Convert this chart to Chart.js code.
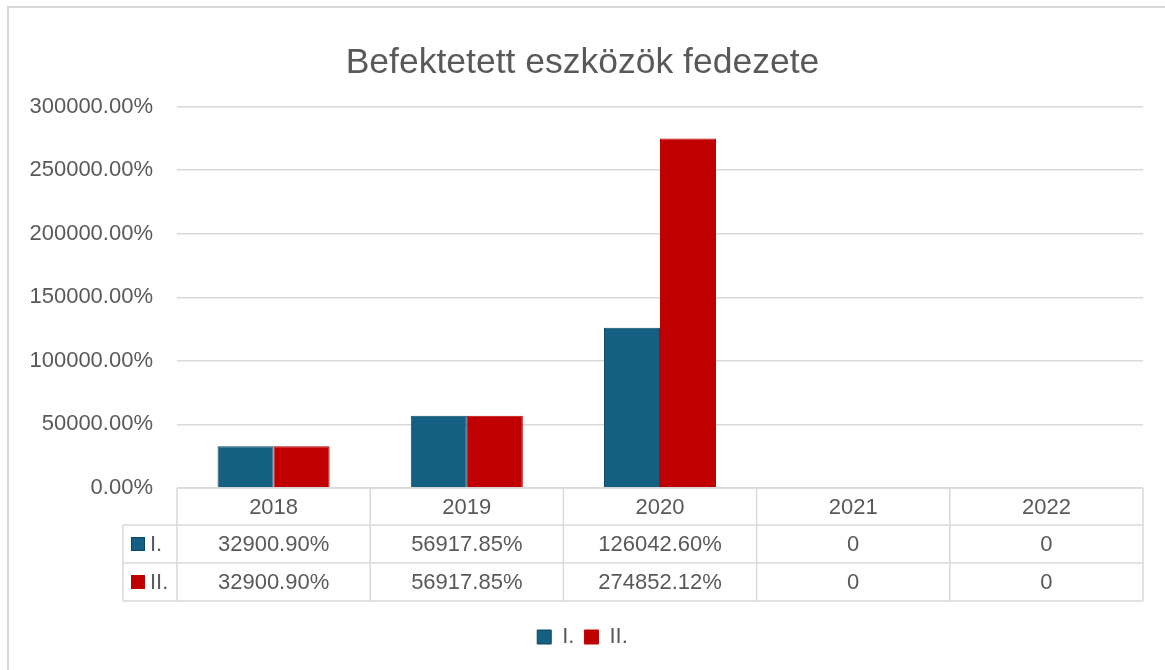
<!DOCTYPE html>
<html><head><meta charset="utf-8">
<script src="https://cdn.jsdelivr.net/npm/chart.js@4/dist/chart.umd.min.js"></script>
<style>html,body{margin:0;padding:0;background:#fff;overflow:hidden}#wrap{position:relative;width:1165px;height:670px}</style>
</head><body><div id="wrap"><canvas id="c" width="1165" height="670"></canvas></div>
<script>
const chartTitle = 'Befektetett eszközök fedezete';
const categories = ['2018', '2019', '2020', '2021', '2022'];
const seriesNames = ['I.', 'II.'];
const seriesI = [32900.90, 56917.85, 126042.60, 0, 0];
const seriesII = [32900.90, 56917.85, 274852.12, 0, 0];
const yTicks = [0, 50000, 100000, 150000, 200000, 250000, 300000];

const FONT = "'Liberation Sans', Arial, sans-serif";
const TEXT = '#595959';
const GRID = '#d9d9d9';
const BLUE = '#156082';
const BLUE_EDGE = '#0e4560';
const RED = '#c00000';

function fmt(v) { return v === 0 ? '0' : v.toFixed(2) + '%'; }

const framePlugin = {
  id: 'frame',
  beforeDraw(chart) {
    const ctx = chart.ctx;
    ctx.save();
    ctx.fillStyle = '#fff';
    ctx.fillRect(0, 0, chart.width, chart.height);
    ctx.strokeStyle = GRID;
    ctx.lineWidth = 2;
    ctx.beginPath();
    ctx.moveTo(8, chart.height + 2);
    ctx.lineTo(8, 7);
    ctx.lineTo(chart.width + 2, 7);
    ctx.stroke();
    ctx.restore();
  }
};

const tablePlugin = {
  id: 'dataTable',
  afterDraw(chart) {
    const ctx = chart.ctx;
    const { left, right, bottom } = chart.chartArea;
    const n = categories.length;
    const colW = (right - left) / n;
    const rowH = [37, 38, 38];
    const y0 = bottom, y1 = y0 + rowH[0], y2 = y1 + rowH[1], y3 = y2 + rowH[2];
    const labelLeft = left - 54;
    ctx.save();
    ctx.strokeStyle = GRID;
    ctx.lineWidth = 1.5;
    const line = (a, b, c, d) => { ctx.beginPath(); ctx.moveTo(a, b); ctx.lineTo(c, d); ctx.stroke(); };
    line(left, y0, right, y0);
    line(labelLeft, y1, right, y1);
    line(labelLeft, y2, right, y2);
    line(labelLeft, y3, right, y3);
    for (let i = 0; i <= n; i++) {
      const x = left + i * colW;
      line(x, y0, x, y3);
    }
    line(labelLeft, y1, labelLeft, y3);

    ctx.fillStyle = TEXT;
    ctx.font = '22px ' + FONT;
    ctx.textBaseline = 'middle';
    ctx.textAlign = 'center';
    for (let i = 0; i < n; i++) {
      const cx = left + (i + 0.5) * colW;
      ctx.fillText(categories[i], cx, (y0 + y1) / 2 + 1);
    }
    const rows = [[y1, y2], [y2, y3]];
    chart.data.datasets.forEach((ds, r) => {
      const cy = (rows[r][0] + rows[r][1]) / 2 + 1;
      ctx.textAlign = 'center';
      ctx.fillStyle = TEXT;
      for (let i = 0; i < n; i++) {
        const cx = left + (i + 0.5) * colW;
        ctx.fillText(fmt(ds.data[i]), cx, cy);
      }
      ctx.fillStyle = ds.backgroundColor;
      ctx.fillRect(labelLeft + 8, cy - 8, 14, 14);
      ctx.strokeStyle = ds.borderColor;
      ctx.lineWidth = 1;
      ctx.strokeRect(labelLeft + 8.5, cy - 7.5, 13, 13);
      ctx.fillStyle = TEXT;
      ctx.textAlign = 'left';
      ctx.fillText(ds.label, labelLeft + 27, cy);
    });
    ctx.restore();
  }
};

new Chart(document.getElementById('c'), {
  type: 'bar',
  data: {
    labels: categories,
    datasets: [
      { label: seriesNames[0], data: seriesI, backgroundColor: BLUE, borderColor: BLUE_EDGE, borderWidth: 1 },
      { label: seriesNames[1], data: seriesII, backgroundColor: RED, borderColor: RED, borderWidth: 1 }
    ]
  },
  options: {
    responsive: false,
    animation: false,
    layout: { padding: { left: 22, right: 22, top: 0, bottom: 12 } },
    datasets: { bar: { categoryPercentage: 0.58, barPercentage: 1.0 } },
    plugins: {
      title: {
        display: true, text: chartTitle, color: TEXT,
        font: { family: FONT, size: 35.5, weight: 'normal' },
        padding: { top: 42, bottom: 22 }
      },
      legend: {
        position: 'bottom',
        labels: {
          color: TEXT, font: { family: FONT, size: 22 },
          boxWidth: 14, boxHeight: 14, padding: 10
        }
      },
      tooltip: { enabled: false }
    },
    scales: {
      x: {
        grid: { display: false },
        border: { display: false },
        ticks: { display: false },
        afterFit(scale) { scale.height = 128; }
      },
      y: {
        min: 0, max: 300000,
        afterBuildTicks(scale) { scale.ticks = yTicks.map(v => ({ value: v })); },
        grid: { color: GRID, lineWidth: 1.5, drawTicks: false },
        border: { display: false },
        ticks: {
          color: TEXT, font: { family: FONT, size: 22 }, padding: 24,
          callback: v => v.toFixed(2) + '%'
        },
        afterFit(scale) { scale.width = 155; }
      }
    }
  },
  plugins: [framePlugin, tablePlugin]
});
</script>
</body></html>
